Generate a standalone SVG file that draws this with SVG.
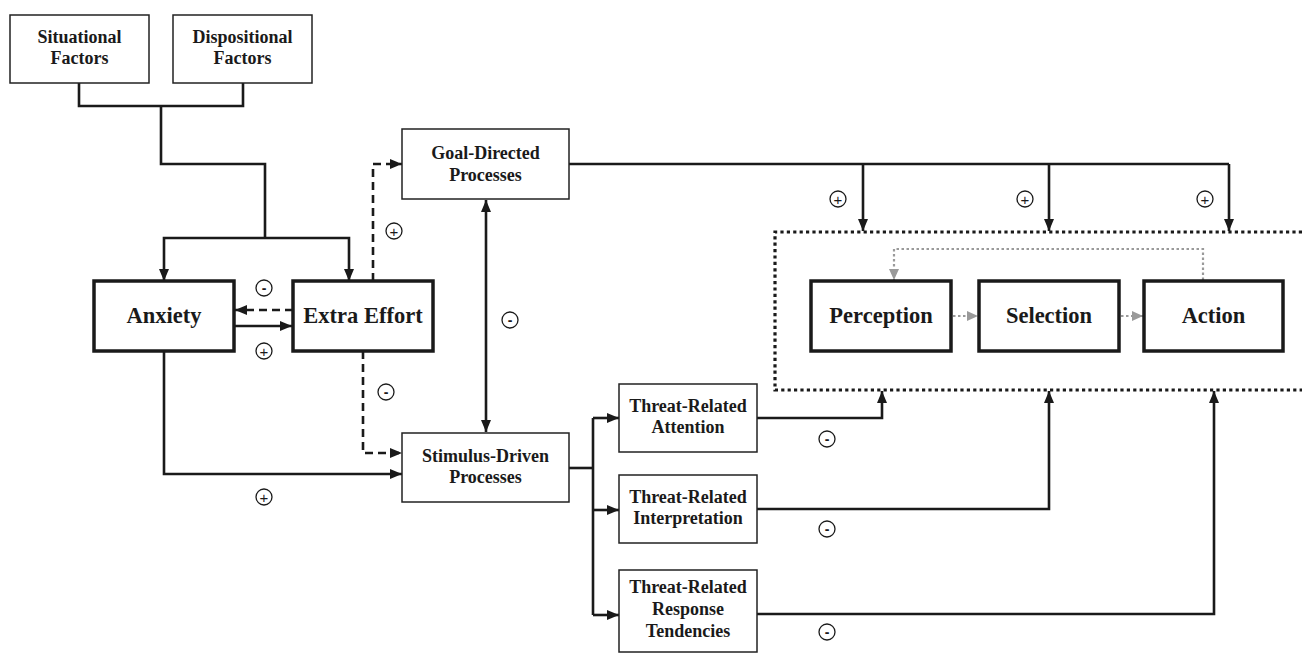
<svg xmlns="http://www.w3.org/2000/svg" width="1302" height="655" viewBox="0 0 1302 655">
<defs>
<marker id="ah" markerUnits="userSpaceOnUse" markerWidth="13" markerHeight="11" refX="12" refY="5" orient="auto" viewBox="0 0 13 10">
<path d="M0,0 L12,5 L0,10 z" fill="#1a1a1a"/>
</marker>
<marker id="ahs" markerUnits="userSpaceOnUse" markerWidth="13" markerHeight="11" refX="0" refY="5" orient="auto" viewBox="0 0 13 10">
<path d="M12,0 L0,5 L12,10 z" fill="#1a1a1a"/>
</marker>
<marker id="ag" markerUnits="userSpaceOnUse" markerWidth="12" markerHeight="11" refX="11" refY="5" orient="auto" viewBox="0 0 12 10">
<path d="M0,0 L11,5 L0,10 z" fill="#9a9a9a"/>
</marker>
<style>
.sm{fill:#fff;stroke:#222;stroke-width:1.5}
.bg{fill:#fff;stroke:#1a1a1a;stroke-width:3.5}
.t{font-family:"Liberation Serif","Times New Roman",serif;font-weight:bold;font-size:18px;fill:#1a1a1a;text-anchor:middle}
.T{font-family:"Liberation Serif","Times New Roman",serif;font-weight:bold;font-size:22.5px;fill:#1a1a1a;text-anchor:middle}
.c{fill:none;stroke:#1a1a1a;stroke-width:2.6}
.a{marker-end:url(#ah)}
.d{stroke-dasharray:8 5}
.g{fill:none;stroke:#9a9a9a;stroke-width:2.2;stroke-dasharray:2.5 2.5}
.dot{fill:none;stroke:#1a1a1a;stroke-width:3.2;stroke-dasharray:3.2 3.2}
.s circle{fill:#fff;stroke:#1a1a1a;stroke-width:1.3}
.s text{font-family:"Liberation Sans",Arial,sans-serif;font-size:15px;fill:#1a1a1a;text-anchor:middle}
.s text.m{font-size:14px;font-weight:bold}
</style>
</defs>
<rect width="1302" height="655" fill="#fff"/>

<g id="connectors">
<path class="c" d="M79 83 V106 H243 V83"/>
<path class="c" d="M161 106 V164 H265 V238"/>
<path class="c a" d="M265 238 H164 V281"/>
<path class="c a" d="M265 238 H349 V281"/>
<path class="c d a" d="M293 310 H235"/>
<path class="c a" d="M234 326 H292"/>
<path class="c d a" d="M373 281 V164 H402"/>
<path class="c d a" d="M363 351 V453 H402"/>
<path class="c a" d="M164 351 V474 H402"/>
<path class="c a" d="M486 432 V200" style="marker-start:url(#ahs)"/>
<path class="c" d="M569 164 H1229"/>
<path class="c a" d="M863 164 V231"/>
<path class="c a" d="M1049 164 V231"/>
<path class="c a" d="M1229 164 V231"/>
<path class="c" d="M569 468 H593"/>
<path class="c" d="M593 418 V615"/>
<path class="c a" d="M593 418 H619"/>
<path class="c a" d="M593 510 H619"/>
<path class="c a" d="M593 615 H619"/>
<path class="c a" d="M757 418 H882 V391"/>
<path class="c a" d="M757 509 H1049 V391"/>
<path class="c a" d="M757 614 H1214 V391"/>
<path class="dot" d="M1302 232 H775 V390 H1302"/>
<path class="g" d="M1203 280 V249 H894 V280" marker-end="url(#ag)"/>
<path class="g" d="M953 316 H978" marker-end="url(#ag)"/>
<path class="g" d="M1121 316 H1143" marker-end="url(#ag)"/>
</g>

<g id="signs" class="s">
<circle cx="394" cy="231" r="8"/><text x="394" y="236.5">+</text>
<circle cx="264" cy="288" r="8"/><text class="m" x="264" y="293">-</text>
<circle cx="264" cy="351" r="8"/><text x="264" y="356.5">+</text>
<circle cx="386" cy="392" r="8"/><text class="m" x="386" y="397">-</text>
<circle cx="510" cy="320" r="8"/><text class="m" x="510" y="325">-</text>
<circle cx="264" cy="497" r="8"/><text x="264" y="502.5">+</text>
<circle cx="838" cy="199" r="8"/><text x="838" y="204.5">+</text>
<circle cx="1025" cy="199" r="8"/><text x="1025" y="204.5">+</text>
<circle cx="1205" cy="199" r="8"/><text x="1205" y="204.5">+</text>
<circle cx="827" cy="439" r="8"/><text class="m" x="827" y="444">-</text>
<circle cx="827" cy="529" r="8"/><text class="m" x="827" y="534">-</text>
<circle cx="827" cy="632" r="8"/><text class="m" x="827" y="637">-</text>
</g>

<g id="situational"><rect class="sm" x="10" y="15" width="139" height="68"/><text class="t" x="79.5" y="43">Situational</text><text class="t" x="79.5" y="64">Factors</text></g>
<g id="dispositional"><rect class="sm" x="173" y="15" width="139" height="68"/><text class="t" x="242.5" y="43">Dispositional</text><text class="t" x="242.5" y="64">Factors</text></g>
<g id="anxiety"><rect class="bg" x="94" y="281" width="140" height="70"/><text class="T" x="164" y="323">Anxiety</text></g>
<g id="extra-effort"><rect class="bg" x="293" y="281" width="140" height="70"/><text class="T" x="363" y="323">Extra Effort</text></g>
<g id="goal-directed"><rect class="sm" x="402" y="129" width="167" height="70"/><text class="t" x="485.5" y="159">Goal-Directed</text><text class="t" x="485.5" y="181">Processes</text></g>
<g id="stimulus-driven"><rect class="sm" x="402" y="433" width="167" height="69"/><text class="t" x="485.5" y="462">Stimulus-Driven</text><text class="t" x="485.5" y="483">Processes</text></g>
<g id="threat-attention"><rect class="sm" x="619" y="384" width="138" height="68"/><text class="t" x="688" y="412">Threat-Related</text><text class="t" x="688" y="433">Attention</text></g>
<g id="threat-interpretation"><rect class="sm" x="619" y="475" width="138" height="68"/><text class="t" x="688" y="503">Threat-Related</text><text class="t" x="688" y="524">Interpretation</text></g>
<g id="threat-response"><rect class="sm" x="619" y="570" width="138" height="82"/><text class="t" x="688" y="593">Threat-Related</text><text class="t" x="688" y="615">Response</text><text class="t" x="688" y="637">Tendencies</text></g>
<g id="perception"><rect class="bg" x="811" y="281" width="140" height="70"/><text class="T" x="881" y="323">Perception</text></g>
<g id="selection"><rect class="bg" x="979" y="281" width="140" height="70"/><text class="T" x="1049" y="323">Selection</text></g>
<g id="action"><rect class="bg" x="1144" y="281" width="139" height="70"/><text class="T" x="1213.5" y="323">Action</text></g>
</svg>
